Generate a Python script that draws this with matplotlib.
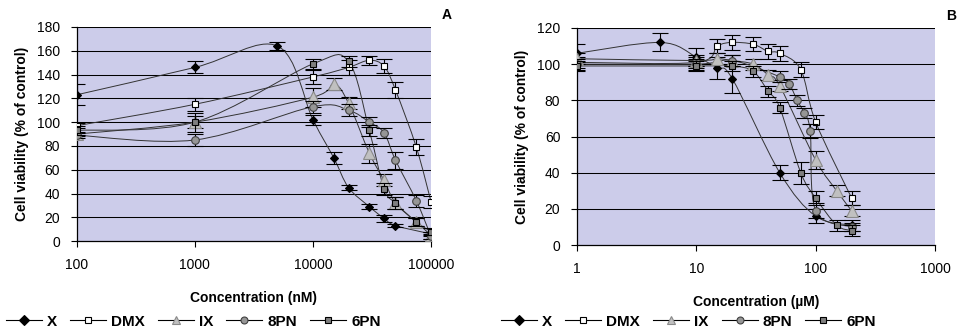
import matplotlib
matplotlib.use('Agg')
import matplotlib.pyplot as plt
import numpy as np
from matplotlib.path import Path
from matplotlib.patches import PathPatch
from matplotlib.lines import Line2D
from matplotlib.ticker import FixedLocator, FixedFormatter, NullLocator

plt.rcParams['font.family'] = ['Liberation Sans', 'DejaVu Sans']

# ---- panel A (nM) ----
a_x_conc = [100, 1000, 5000, 10000, 15000, 20000, 30000, 40000, 50000, 100000]
a_x_val = [123, 146, 164, 102, 70, 45, 29, 19, 13, 6]
a_x_err = [8.7, 5, 3, 4, 5, 2, 2, 3, 1.5, 2]

a_dmx_conc = [100, 1000, 10000, 20000, 30000, 40000, 50000, 75000, 100000]
a_dmx_val = [97, 115, 138, 146, 152, 147, 127, 79, 33]
a_dmx_err = [2, 5.5, 6, 6, 4, 6, 7, 7, 5]

a_ix_conc = [100, 1000, 10000, 15000, 20000, 30000, 40000, 50000, 75000, 100000]
a_ix_val = [90, 100, 121, 132, 116, 74, 51, 32, 16, 5]
a_ix_err = [2, 5, 8, 5, 5, 8, 5, 5, 3, 3]

a_8pn_conc = [100, 1000, 10000, 20000, 30000, 40000, 50000, 75000, 100000]
a_8pn_val = [89, 85, 113, 110, 100, 91, 68, 34, 4]
a_8pn_err = [2, 5, 5, 5, 4, 4, 7, 5, 2]

a_6pn_conc = [100, 1000, 10000, 20000, 30000, 40000, 50000, 75000, 100000]
a_6pn_val = [93, 100, 149, 151, 93, 44, 32, 16, 8]
a_6pn_err = [4, 8, 4, 5, 5, 5, 5, 3, 3]

# ---- panel B (uM) ----
b_x_conc = [1, 5, 10, 15, 20, 50, 100, 200]
b_x_val = [106, 112, 104, 98, 92, 40, 16, 11]
b_x_err = [5, 5, 5, 6, 8, 4, 4, 3]

b_dmx_conc = [1, 10, 15, 20, 30, 40, 50, 75, 100, 200]
b_dmx_val = [101, 101, 110, 112, 111, 107, 106, 97, 68, 26]
b_dmx_err = [3, 3, 4, 4, 4, 4, 4, 4, 4, 4]

b_ix_conc = [1, 10, 15, 20, 30, 40, 50, 100, 150, 200]
b_ix_val = [103, 102, 103, 102, 100, 94, 88, 47, 30, 19]
b_ix_err = [3, 3, 3, 3, 3, 3, 3, 5, 3, 3]

b_8pn_conc = [1, 10, 20, 50, 60, 70, 80, 90, 100, 200]
b_8pn_val = [100, 100, 102, 93, 89, 80, 73, 63, 19, 10]
b_8pn_err = [3, 3, 3, 3, 3, 3, 3, 4, 4, 2]

b_6pn_conc = [1, 10, 20, 30, 40, 50, 75, 100, 150, 200]
b_6pn_val = [99, 99, 99, 96, 85, 76, 40, 26, 11, 8]
b_6pn_err = [3, 3, 3, 3, 3, 3, 6, 4, 3, 3]

names = ['X', 'DMX', 'IX', '8PN', '6PN']
styles = {
    'X':   dict(marker='D', ms=4.5, mfc='black', mec='black'),
    'DMX': dict(marker='s', ms=4.8, mfc='white', mec='black'),
    'IX':  dict(marker='^', ms=8, mfc='#c0c0c0', mec='#8a8a8a'),
    '8PN': dict(marker='o', ms=5.5, mfc='#969696', mec='#404040'),
    '6PN': dict(marker='s', ms=5, mfc='#7f7f7f', mec='black'),
}
bg = '#ccccea'


def smooth_line(ax, xs, ys):
    # Excel-like smoothed line (Catmull-Rom Bezier in log-x space)
    lx = np.log10(np.array(xs, float))
    y = np.array(ys, float)
    n = len(lx)
    verts = [(xs[0], ys[0])]
    codes = [Path.MOVETO]
    for i in range(n - 1):
        p0 = max(i - 1, 0)
        p3 = min(i + 2, n - 1)
        c1x = lx[i] + (lx[i + 1] - lx[p0]) / 6
        c1y = y[i] + (y[i + 1] - y[p0]) / 6
        c2x = lx[i + 1] - (lx[p3] - lx[i]) / 6
        c2y = y[i + 1] - (y[p3] - y[i]) / 6
        verts += [(10 ** c1x, c1y), (10 ** c2x, c2y), (xs[i + 1], ys[i + 1])]
        codes += [Path.CURVE4] * 3
    ax.add_patch(PathPatch(Path(verts, codes), fill=False, lw=0.7,
                           edgecolor='#333333', zorder=3))


def panel(ax, series, ymax, xlim, xticks, xlabel, letter):
    ax.set_facecolor(bg)
    ax.set_xscale('log')
    ax.set_xlim(*xlim)
    ax.set_ylim(0, ymax)
    for y in np.arange(20, ymax + 1, 20):
        ax.axhline(y, color='black', lw=0.75, zorder=1)
    for k, name in enumerate(names):
        xs, ys, es = series[name]
        smooth_line(ax, xs, ys)
        ax.errorbar(xs, ys, yerr=es, fmt='none', ecolor='black', elinewidth=0.8,
                    capsize=6, capthick=0.8, zorder=4 + k)
        ax.plot(xs, ys, ls='none', zorder=4.5 + k, mew=0.8, **styles[name])
    ax.xaxis.set_major_locator(FixedLocator(xticks))
    ax.xaxis.set_major_formatter(FixedFormatter([str(t) for t in xticks]))
    ax.xaxis.set_minor_locator(NullLocator())
    ax.set_yticks(np.arange(0, ymax + 1, 20))
    ax.tick_params(labelsize=10, length=4, width=0.8, pad=8, colors='black')
    for s in ['top', 'right']:
        ax.spines[s].set_visible(False)
    ax.spines['left'].set_linewidth(0.9)
    ax.spines['bottom'].set_linewidth(0.9)
    ax.set_xlabel(xlabel, fontsize=10, fontweight='bold', labelpad=14)
    ax.set_ylabel('Cell viability (% of control)', fontsize=10, fontweight='bold', labelpad=6)
    ax.text(1.045, 1.055, letter, transform=ax.transAxes, fontsize=10,
            fontweight='bold', ha='center', va='center')


fig = plt.figure(figsize=(9.6, 3.33), dpi=100)
axA = fig.add_axes([0.080, 0.276, 0.369, 0.643])
axB = fig.add_axes([0.601, 0.264, 0.373, 0.652])

seriesA = {
    'X': (a_x_conc, a_x_val, a_x_err),
    'DMX': (a_dmx_conc, a_dmx_val, a_dmx_err),
    'IX': (a_ix_conc, a_ix_val, a_ix_err),
    '8PN': (a_8pn_conc, a_8pn_val, a_8pn_err),
    '6PN': (a_6pn_conc, a_6pn_val, a_6pn_err),
}
seriesB = {
    'X': (b_x_conc, b_x_val, b_x_err),
    'DMX': (b_dmx_conc, b_dmx_val, b_dmx_err),
    'IX': (b_ix_conc, b_ix_val, b_ix_err),
    '8PN': (b_8pn_conc, b_8pn_val, b_8pn_err),
    '6PN': (b_6pn_conc, b_6pn_val, b_6pn_err),
}

panel(axA, seriesA, 180, (100, 100000), [100, 1000, 10000, 100000], 'Concentration (nM)', 'A')
panel(axB, seriesB, 120, (1, 1000), [1, 10, 100, 1000], 'Concentration (\u00b5M)', 'B')

handles = []
for name in names:
    st = dict(styles[name])
    st['ms'] = {'X': 5, 'DMX': 4.5, 'IX': 5.5, '8PN': 5, '6PN': 4.5}[name]
    handles.append(Line2D([], [], color='black', lw=0.8, mew=0.8, **st))

for x0 in [0.006, 0.522]:
    fig.legend(handles, names, loc='center left', bbox_to_anchor=(x0, 0.034),
               ncol=5, frameon=False, handlelength=2.36, handletextpad=0.33,
               columnspacing=0.85, borderpad=0, borderaxespad=0,
               prop=dict(weight='bold', size=11))

fig.savefig('out.png', dpi=100)
